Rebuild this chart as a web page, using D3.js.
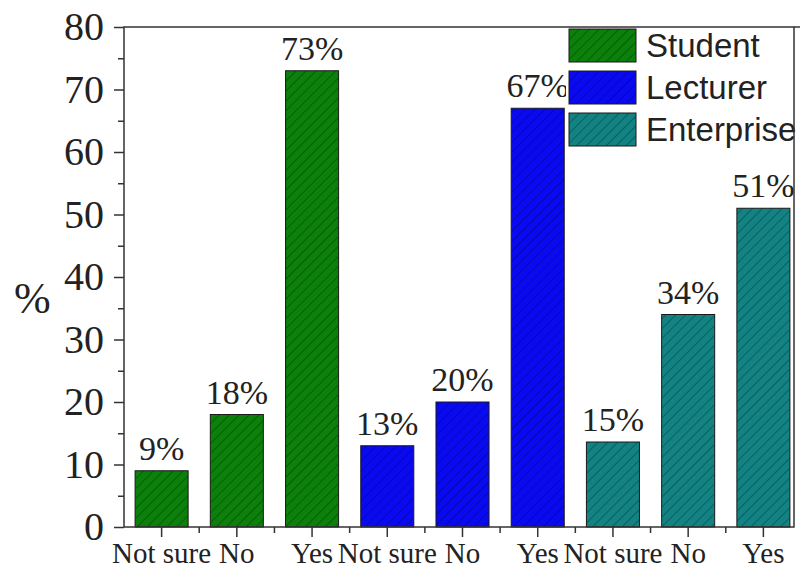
<!DOCTYPE html>
<html>
<head>
<meta charset="utf-8">
<script src="https://cdn.jsdelivr.net/npm/d3@7"></script>
<style>
  body { margin: 0; background: #fff; }
  .tick text { fill: #222; }
</style>
</head>
<body>
<div id="chart"></div>
<script>
// data
var groups = ["Student", "Lecturer", "Enterprise"];
var answers = ["Not sure", "No", "Yes"];
var studentVals = [9, 18, 73];
var lecturerVals = [13, 20, 67];
var enterpriseVals = [13.6, 34, 51];
var barLabels = ["9%", "18%", "73%", "13%", "20%", "67%", "15%", "34%", "51%"];
var yTicks = [0, 10, 20, 30, 40, 50, 60, 70, 80];
var yMinor = [5, 15, 25, 35, 45, 55, 65, 75];
var groupColors = ["#0b800b", "#0a0af2", "#128282"];

var width = 801, height = 569;
var plotL = 124, plotR = 794, plotT = 27, plotB = 527;

// flatten into one row per bar
var allVals = [studentVals, lecturerVals, enterpriseVals];
var rows = [];
groups.forEach(function(g, gi) {
  answers.forEach(function(a, ai) {
    var i = gi * 3 + ai;
    rows.push({i: i, group: gi, answer: a, value: allVals[gi][ai], label: barLabels[i]});
  });
});

var svg = d3.select("#chart").append("svg")
    .attr("width", width)
    .attr("height", height);

var x = d3.scaleBand()
    .domain(d3.range(rows.length))
    .range([plotL, 801])
    .paddingInner(0.295)
    .paddingOuter(0.1475);

var y = d3.scaleLinear().domain([0, 80]).range([plotB, plotT]);

// hatch patterns
var defs = svg.append("defs");
groupColors.forEach(function(c, gi) {
  var p = defs.append("pattern")
      .attr("id", "hatch" + gi)
      .attr("patternUnits", "userSpaceOnUse")
      .attr("width", 7).attr("height", 7)
      .attr("patternTransform", "rotate(45)");
  p.append("rect").attr("width", 7).attr("height", 7).attr("fill", c);
  p.append("line").attr("x1", 0).attr("y1", 0).attr("x2", 0).attr("y2", 7)
      .attr("stroke", "#000").attr("stroke-opacity", 0.45).attr("stroke-width", 1.2);
});

// bars
svg.selectAll(".bar")
    .data(rows)
    .enter().append("rect")
    .attr("class", "bar")
    .attr("x", function(d) { return x(d.i); })
    .attr("width", x.bandwidth())
    .attr("y", function(d) { return y(d.value); })
    .attr("height", function(d) { return y(0) - y(d.value); })
    .attr("fill", function(d) { return "url(#hatch" + d.group + ")"; })
    .attr("stroke", "#1a1a1a")
    .attr("stroke-width", 1);

// value labels
svg.selectAll(".vlabel")
    .data(rows)
    .enter().append("text")
    .attr("class", "vlabel")
    .attr("x", function(d) { return x(d.i) + x.bandwidth() / 2; })
    .attr("y", function(d) { return y(d.value) - 11; })
    .attr("text-anchor", "middle")
    .style("font-family", "'Liberation Serif', 'Times New Roman', serif")
    .style("font-size", "34px")
    .style("fill", "#222")
    .text(function(d) { return d.label; });

// x axis, major ticks with labels
var xAxis = d3.axisBottom(x)
    .tickSize(10)
    .tickPadding(5)
    .tickFormat(function(i) { return rows[i].answer; });

var gx = svg.append("g")
    .attr("transform", "translate(0," + plotB + ")")
    .call(xAxis);
gx.select(".domain").remove();
gx.selectAll("line").attr("stroke", "#333").attr("stroke-width", 1.5);
gx.selectAll("text")
    .style("font-family", "'Liberation Serif', 'Times New Roman', serif")
    .style("font-size", "29px");

// x minor ticks between bars
var gap = (x.step() - x.bandwidth()) / 2;
svg.append("g").selectAll("line")
    .data(d3.range(1, rows.length))
    .enter().append("line")
    .attr("x1", function(i) { return x(i) - gap; })
    .attr("x2", function(i) { return x(i) - gap; })
    .attr("y1", plotB).attr("y2", plotB + 6)
    .attr("stroke", "#333").attr("stroke-width", 1.5);

// y axis
var gy = svg.append("g")
    .attr("transform", "translate(" + plotL + ",0)")
    .call(d3.axisLeft(y).tickValues(yTicks).tickSize(10).tickPadding(10));
gy.select(".domain").remove();
gy.selectAll("line").attr("stroke", "#333").attr("stroke-width", 1.5);
gy.selectAll("text")
    .style("font-family", "'Liberation Serif', 'Times New Roman', serif")
    .style("font-size", "40px");

var gyMinor = svg.append("g")
    .attr("transform", "translate(" + plotL + ",0)")
    .call(d3.axisLeft(y).tickValues(yMinor).tickSize(6).tickFormat(""));
gyMinor.select(".domain").remove();
gyMinor.selectAll("line").attr("stroke", "#333").attr("stroke-width", 1.5);

// y title
svg.append("text")
    .attr("x", 14).attr("y", 313)
    .style("font-family", "'Liberation Serif', 'Times New Roman', serif")
    .style("font-size", "44px")
    .style("fill", "#222")
    .text("%");

// legend (white box drawn over the plot)
var legend = svg.append("g");
legend.append("rect")
    .attr("x", 566).attr("y", plotT)
    .attr("width", 240).attr("height", 126)
    .attr("fill", "#fff");

var item = legend.selectAll(".item")
    .data(groups)
    .enter().append("g")
    .attr("class", "item")
    .attr("transform", function(d, i) { return "translate(569," + (29 + i * 42) + ")"; });

item.append("rect")
    .attr("width", 67).attr("height", 33)
    .attr("fill", function(d, i) { return "url(#hatch" + i + ")"; })
    .attr("stroke", "#1a1a1a").attr("stroke-width", 1);

item.append("text")
    .attr("x", 77).attr("y", 28)
    .style("font-family", "'Liberation Sans', Arial, sans-serif")
    .style("font-size", "33px")
    .style("fill", "#222")
    .text(function(d) { return d; });

// frame
svg.append("rect")
    .attr("x", plotL).attr("y", plotT)
    .attr("width", plotR - plotL).attr("height", plotB - plotT)
    .attr("fill", "none")
    .attr("stroke", "#333")
    .attr("stroke-width", 1.5);
svg.append("line")
    .attr("x1", plotR).attr("x2", 800)
    .attr("y1", plotT).attr("y2", plotT)
    .attr("stroke", "#333").attr("stroke-width", 1.5);
</script>
</body>
</html>
